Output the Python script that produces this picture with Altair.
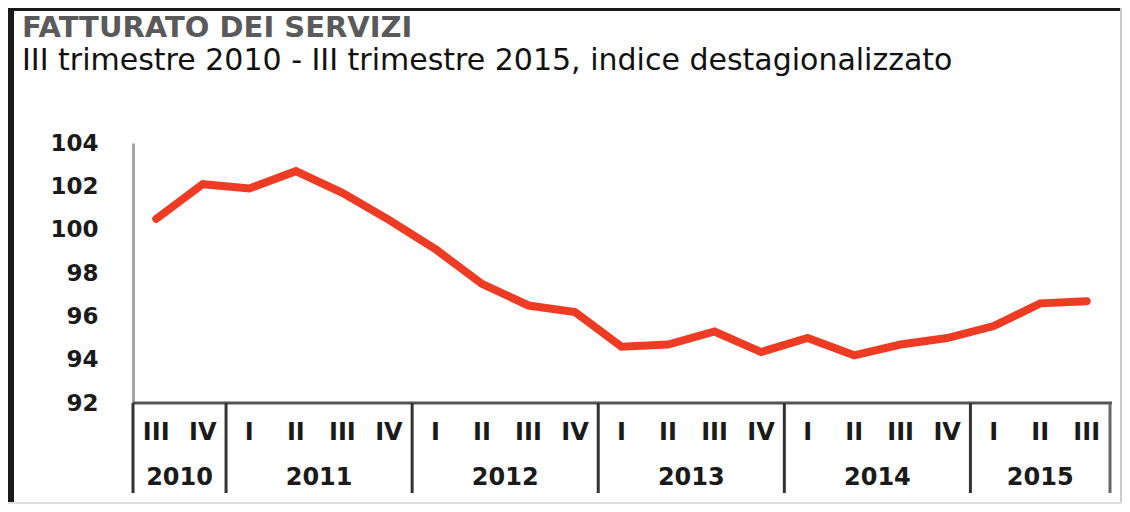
import altair as alt
import pandas as pd
import numpy as np

title_text = "FATTURATO DEI SERVIZI"
subtitle_text = "III trimestre 2010 - III trimestre 2015, indice destagionalizzato"

quarters = ["III", "IV",
            "I", "II", "III", "IV",
            "I", "II", "III", "IV",
            "I", "II", "III", "IV",
            "I", "II", "III", "IV",
            "I", "II", "III"]
values = [100.5, 102.1,
          101.9, 102.7, 101.7, 100.45,
          99.1, 97.5, 96.5, 96.2,
          94.6, 94.7, 95.3, 94.35,
          95.0, 94.2, 94.7, 95.0,
          95.55, 96.6, 96.7]
years = ["2010", "2011", "2012", "2013", "2014", "2015"]
quarters_per_year = [2, 4, 4, 4, 4, 3]
y_ticks = [92, 94, 96, 98, 100, 102, 104]

W, H = 977, 260
PAD = {"left": 125, "top": 135, "right": 12, "bottom": 101}
n = len(quarters)

df = pd.DataFrame({"pos": np.arange(n) + 0.5, "value": values, "q": quarters})
bounds = np.concatenate([[0], np.cumsum(quarters_per_year)])
df_years = pd.DataFrame({"year": years, "mid": (bounds[:-1] + bounds[1:]) / 2})
df_bounds = pd.DataFrame({"b": bounds,
                          "c": ["#333333"] * (len(bounds) - 1) + ["#666666"]})
one = pd.DataFrame({"k": [0]})

xscale = alt.Scale(domain=[0, n], nice=False, zero=False)
yscale = alt.Scale(domain=[92, 104], nice=False, zero=False)

line = alt.Chart(df).mark_line(color="#ee3b24", strokeWidth=8, strokeCap="round").encode(
    x=alt.X("pos:Q", scale=xscale, axis=None),
    y=alt.Y("value:Q", scale=yscale,
            axis=alt.Axis(values=y_ticks, title=None, grid=False, ticks=False, tickSize=0,
                          domainColor="#a6a6a6", domainWidth=3,
                          labelFont="DejaVu Sans", labelFontWeight="bold", labelFontSize=23,
                          labelColor="#1a1a1a", labelPadding=35)),
)

top_rule = alt.Chart(one).mark_rule(color="#555555", strokeWidth=3).encode(
    x=alt.value(0), x2=alt.value(W + 2), y=alt.value(H)
)

dividers = alt.Chart(df_bounds).mark_rule(strokeWidth=3).encode(
    x=alt.X("b:Q", scale=xscale, axis=None), y=alt.value(H), y2=alt.value(H + 90),
    color=alt.Color("c:N", scale=None, legend=None)
)

qlabels = alt.Chart(df).mark_text(font="DejaVu Sans", fontWeight="bold", fontSize=24,
                                  baseline="middle", align="center", color="#1a1a1a").encode(
    x=alt.X("pos:Q", scale=xscale, axis=None), y=alt.value(290), text="q:N"
)

ylabels = alt.Chart(df_years).mark_text(font="DejaVu Sans", fontWeight="bold", fontSize=24,
                                        baseline="middle", align="center", color="#1a1a1a").encode(
    x=alt.X("mid:Q", scale=xscale, axis=None), y=alt.value(335), text="year:N"
)

title = alt.Chart(pd.DataFrame({"t": [title_text]})).mark_text(
    align="left", baseline="alphabetic", font="DejaVu Sans", fontWeight="bold",
    fontSize=29, color="#5a5a5a").encode(x=alt.value(-111), y=alt.value(-106), text="t:N")

subtitle = alt.Chart(pd.DataFrame({"t": [subtitle_text]})).mark_text(
    align="left", baseline="alphabetic", font="DejaVu Sans", fontSize=30,
    color="#111111").encode(x=alt.value(-111), y=alt.value(-73), text="t:N")

frame_left = alt.Chart(one).mark_rule(color="#1a1a1a", strokeWidth=6).encode(
    x=alt.value(-PAD["left"] + 3), y=alt.value(-PAD["top"]), y2=alt.value(H + PAD["bottom"])
)
frame_top = alt.Chart(one).mark_rule(color="#1a1a1a", strokeWidth=3).encode(
    x=alt.value(-PAD["left"]), x2=alt.value(W + PAD["right"]), y=alt.value(-PAD["top"] + 1.5)
)
frame_right = alt.Chart(one).mark_rule(color="#cccccc", strokeWidth=2).encode(
    x=alt.value(W + PAD["right"] - 1), y=alt.value(-PAD["top"]), y2=alt.value(H + PAD["bottom"])
)
frame_bottom = alt.Chart(one).mark_rule(color="#e0e0e0", strokeWidth=2).encode(
    x=alt.value(-PAD["left"]), x2=alt.value(W + PAD["right"]), y=alt.value(H + PAD["bottom"] - 1)
)

chart = alt.layer(
    frame_left, frame_top, frame_right, frame_bottom,
    top_rule, dividers, qlabels, ylabels, line, title, subtitle
).properties(
    width=W, height=H,
    autosize=alt.AutoSizeParams(type="none"),
    padding=PAD,
    background="white",
).configure_view(stroke=None)

chart.save("out.html", embed_options={"renderer": "svg", "actions": False})
